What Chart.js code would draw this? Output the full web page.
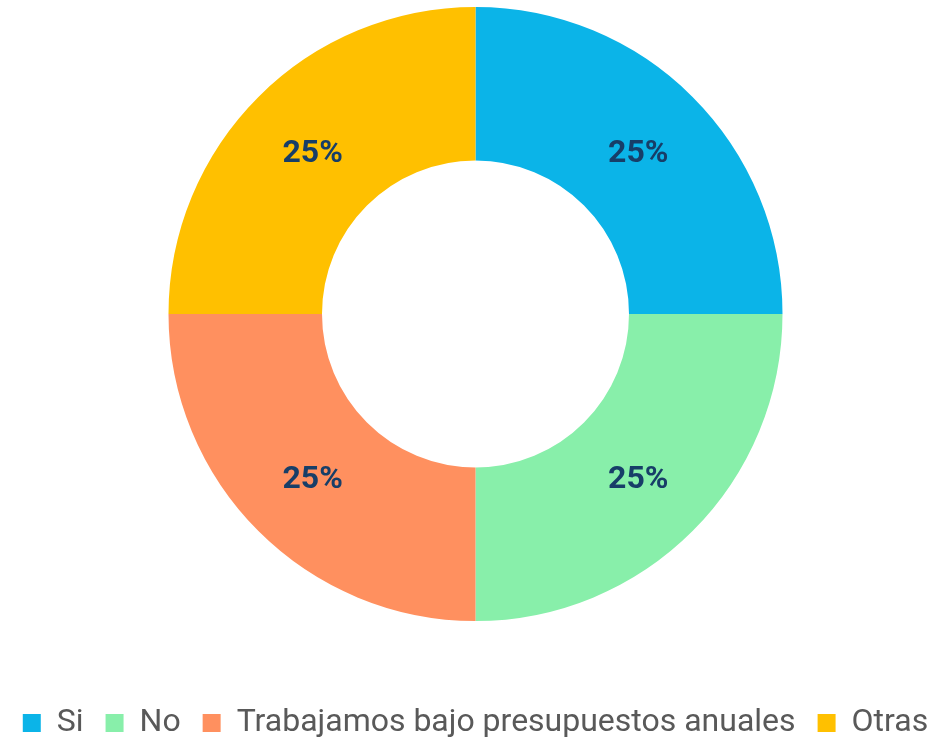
<!DOCTYPE html>
<html>
<head>
<meta charset="utf-8">
<script src="https://cdn.jsdelivr.net/npm/chart.js@4"></script>
<style>
  html, body { margin: 0; padding: 0; background: #fff; overflow: hidden; }
  #wrap { position: relative; width: 951px; height: 749px; }
</style>
</head>
<body>
<div id="wrap"><canvas id="donut"></canvas></div>
<script>
const labels = ['Si', 'No', 'Trabajamos bajo presupuestos anuales', 'Otras'];
const values = [25, 25, 25, 25];
const colors = ['#0BB4E8', '#88EFAA', '#FF905F', '#FFC000'];

// percent labels in the middle of each slice
const pctLabels = {
    id: 'pctLabels',
    afterDatasetsDraw(chart) {
        const { ctx } = chart;
        const meta = chart.getDatasetMeta(0);
        const total = values.reduce((a, b) => a + b, 0);
        ctx.save();
        ctx.font = 'bold 32px Roboto';
        ctx.fillStyle = '#173E68';
        ctx.textAlign = 'center';
        ctx.textBaseline = 'middle';
        meta.data.forEach((arc, i) => {
            const p = arc.tooltipPosition();
            ctx.fillText(Math.round(values[i] / total * 100) + '%', p.x, p.y + 3);
        });
        ctx.restore();
    }
};

new Chart(document.getElementById('donut'), {
    type: 'doughnut',
    data: {
        labels: labels,
        datasets: [{
            data: values,
            backgroundColor: colors,
            borderWidth: 0,
            hoverOffset: 0
        }]
    },
    options: {
        responsive: true,
        maintainAspectRatio: false,
        animation: false,
        cutout: '50%',
        layout: { padding: { top: 7, bottom: 0, left: 0, right: 0 } },
        plugins: {
            tooltip: { enabled: false },
            legend: {
                position: 'bottom',
                title: {
                    display: true,
                    text: '',
                    font: { size: 10 },
                    padding: { top: 52, bottom: 0 }
                },
                labels: {
                    boxWidth: 18,
                    boxHeight: 18,
                    padding: 22,
                    color: '#595959',
                    font: { family: 'Roboto', size: 32 }
                }
            }
        }
    },
    plugins: [pctLabels]
});
</script>
</body>
</html>
